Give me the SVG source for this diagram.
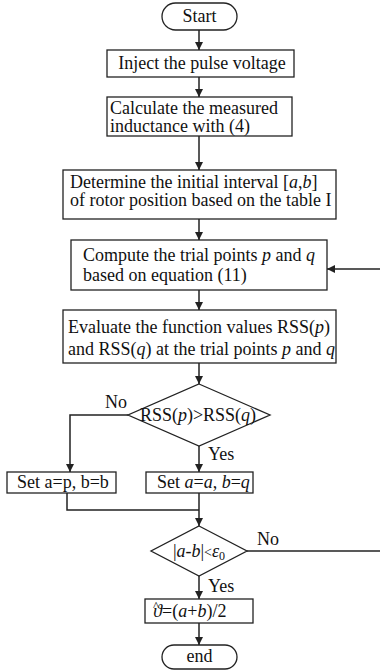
<svg xmlns="http://www.w3.org/2000/svg" width="380" height="671" viewBox="0 0 380 671">
<style>
.b{fill:#fff;stroke:#222;stroke-width:1.3}
.t{font-family:"Liberation Serif","Times New Roman",serif;font-size:18px;fill:#111}
.c{text-anchor:middle}
.i{font-style:italic}
.l{fill:none;stroke:#222;stroke-width:1.5}
</style>
<defs>
<marker id="ah" viewBox="0 0 10 10" refX="10" refY="5" markerWidth="8" markerHeight="8" markerUnits="userSpaceOnUse" orient="auto">
<path d="M0,0 L10,5 L0,10 z" fill="#222"/>
</marker>
</defs>
<rect width="380" height="671" fill="#fff"/>
<g id="connectors">
<line class="l" x1="199" y1="30" x2="199" y2="50" marker-end="url(#ah)"/>
<line class="l" x1="199" y1="77" x2="199" y2="97" marker-end="url(#ah)"/>
<line class="l" x1="199" y1="136" x2="199" y2="170" marker-end="url(#ah)"/>
<line class="l" x1="199" y1="219" x2="199" y2="240" marker-end="url(#ah)"/>
<line class="l" x1="199" y1="290" x2="199" y2="310" marker-end="url(#ah)"/>
<line class="l" x1="380" y1="269" x2="327" y2="269" marker-end="url(#ah)"/>
<line class="l" x1="199" y1="363" x2="199" y2="384" marker-end="url(#ah)"/>
<polyline class="l" points="128,415 70,415 70,472" marker-end="url(#ah)"/>
<line class="l" x1="199" y1="446" x2="199" y2="472" marker-end="url(#ah)"/>
<polyline class="l" points="67,493 67,510 199,510"/>
<line class="l" x1="199" y1="493" x2="199" y2="526" marker-end="url(#ah)"/>
<line class="l" x1="247" y1="551" x2="380" y2="551"/>
<line class="l" x1="199" y1="576" x2="199" y2="599" marker-end="url(#ah)"/>
<line class="l" x1="199" y1="623" x2="199" y2="645" marker-end="url(#ah)"/>
<text class="t" x="105" y="408">No</text>
<text class="t" x="208" y="460">Yes</text>
<text class="t" x="257" y="545">No</text>
<text class="t" x="208" y="592">Yes</text>
</g>
<g id="start">
<rect class="b" x="162" y="3" width="75" height="27" rx="13.5"/>
<text class="t c" x="199.5" y="22">Start</text>
</g>
<g id="inject">
<rect class="b" x="107" y="50" width="187" height="27"/>
<text class="t c" x="202" y="69">Inject the pulse voltage</text>
</g>
<g id="calculate">
<rect class="b" x="107" y="97" width="185" height="39"/>
<text class="t" x="110" y="114">Calculate the measured</text>
<text class="t" x="110" y="132">inductance with (4)</text>
</g>
<g id="determine">
<rect class="b" x="63" y="170" width="273" height="49"/>
<text class="t" x="70" y="188">Determine the initial interval  [<tspan class="i">a</tspan>,<tspan class="i">b</tspan>]</text>
<text class="t" x="70" y="206">of rotor position based on the table I</text>
</g>
<g id="compute">
<rect class="b" x="71" y="240" width="256" height="50"/>
<text class="t" x="83" y="261">Compute the trial points  <tspan class="i">p</tspan> and <tspan class="i">q</tspan></text>
<text class="t" x="83" y="281">based on equation (11)</text>
</g>
<g id="evaluate">
<rect class="b" x="63" y="310" width="273" height="53"/>
<text class="t" x="68" y="333">Evaluate the function values RSS(<tspan class="i">p</tspan>)</text>
<text class="t" x="68" y="355">and RSS(<tspan class="i">q</tspan>) at the trial points <tspan class="i">p</tspan> and <tspan class="i">q</tspan></text>
</g>
<g id="decision1">
<polygon class="b" points="199,384 270,415 199,446 128,415"/>
<text class="t c" x="198" y="421">RSS(<tspan class="i">p</tspan>)&gt;RSS(<tspan class="i">q</tspan>)</text>
</g>
<g id="setleft">
<rect class="b" x="7" y="472" width="109" height="21"/>
<text class="t" x="17" y="488">Set a=p, b=b</text>
</g>
<g id="setright">
<rect class="b" x="146" y="472" width="107" height="21"/>
<text class="t" x="157" y="488">Set <tspan class="i">a</tspan>=<tspan class="i">a</tspan>, <tspan class="i">b</tspan>=<tspan class="i">q</tspan></text>
</g>
<g id="decision2">
<polygon class="b" points="199,526 247,551 199,576 151,551"/>
<text class="t c" x="199" y="557">|<tspan class="i">a</tspan>-<tspan class="i">b</tspan>|<tspan font-size="14">&lt;</tspan><tspan class="i">ε</tspan><tspan font-size="12" dy="3">0</tspan></text>
</g>
<g id="result">
<rect class="b" x="145" y="599" width="108" height="24"/>
<text class="t" x="153" y="617"><tspan class="i">ϑ</tspan><tspan font-size="13" dx="-9" dy="-7">^</tspan><tspan dx="3" dy="7">=(<tspan class="i">a</tspan>+<tspan class="i">b</tspan>)/2</tspan></text>
</g>
<g id="end">
<rect class="b" x="162" y="645" width="75" height="24" rx="12"/>
<text class="t c" x="199.5" y="662">end</text>
</g>
</svg>
